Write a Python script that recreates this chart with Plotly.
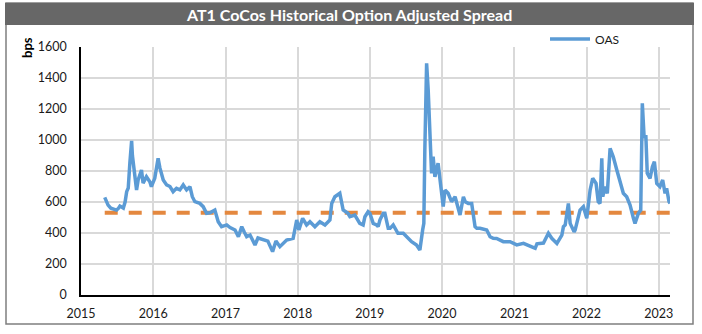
import plotly.graph_objects as go

dates = [
    "2015-05-01","2015-05-10","2015-05-18","2015-06-01","2015-06-13","2015-06-30","2015-07-10","2015-07-17",
    "2015-08-03","2015-08-12","2015-08-20","2015-08-28","2015-09-05","2015-09-14","2015-09-18","2015-09-22",
    "2015-10-01","2015-10-09","2015-10-17","2015-11-03","2015-11-11","2015-11-28","2015-12-15","2015-12-23",
    "2016-01-09","2016-01-18","2016-01-26","2016-02-04","2016-02-21","2016-03-09","2016-03-26","2016-04-11",
    "2016-04-28","2016-05-15","2016-06-01","2016-06-18","2016-07-05","2016-07-17","2016-07-30","2016-08-24",
    "2016-09-10","2016-09-27","2016-10-14","2016-11-08","2016-11-25","2016-12-12","2017-01-07","2017-01-24",
    "2017-02-18","2017-03-07","2017-03-24","2017-04-05","2017-04-18","2017-05-05","2017-05-30","2017-06-14",
    "2017-07-09","2017-08-03","2017-08-27","2017-09-13","2017-10-03","2017-11-06","2017-12-09","2017-12-27",
    "2018-01-07","2018-01-26","2018-02-15","2018-03-04","2018-03-29","2018-04-23","2018-05-19","2018-06-13",
    "2018-06-22","2018-07-08","2018-08-02","2018-08-19","2018-09-12","2018-09-22","2018-10-17","2018-10-26",
    "2018-11-11","2018-11-28","2018-12-07","2018-12-23","2019-01-01","2019-01-18","2019-02-04","2019-02-12",
    "2019-02-21","2019-03-10","2019-03-18","2019-04-04","2019-04-13","2019-04-29","2019-05-16","2019-05-23",
    "2019-06-19","2019-07-14","2019-07-31","2019-08-25","2019-09-11","2019-09-25","2019-10-01","2019-10-06",
    "2019-10-15","2019-10-23","2019-11-01","2019-11-09","2019-11-17","2019-11-26","2019-12-12","2019-12-21",
    "2019-12-30","2020-01-07","2020-01-16","2020-02-01","2020-02-18","2020-03-07","2020-04-01","2020-04-18",
    "2020-04-27","2020-05-13","2020-05-30","2020-06-16","2020-06-25","2020-07-11","2020-08-14","2020-08-31",
    "2020-09-16","2020-10-03","2020-11-06","2020-12-10","2021-01-13","2021-01-30","2021-02-16","2021-04-08",
    "2021-04-16","2021-04-25","2021-05-11","2021-05-28","2021-06-22","2021-07-09","2021-08-04","2021-08-29",
    "2021-09-06","2021-09-15","2021-10-01","2021-10-10","2021-10-30","2021-11-04","2021-11-29","2021-12-16",
    "2022-01-02","2022-01-19","2022-02-01","2022-02-18","2022-03-01","2022-03-10","2022-03-19","2022-03-24",
    "2022-04-04","2022-04-16","2022-04-30","2022-05-16","2022-06-03","2022-06-19","2022-07-06","2022-07-23",
    "2022-08-09","2022-08-26","2022-09-03","2022-09-20","2022-10-02","2022-10-10","2022-10-19","2022-10-28",
    "2022-11-04","2022-11-18","2022-11-30","2022-12-10","2022-12-22","2023-01-07","2023-01-21","2023-02-02",
    "2023-02-10","2023-02-22","2023-02-27",
]
oas = [
    630,600,580,560,553,548,560,574,
    561,600,667,690,850,995,900,850,
    787,677,742,806,722,763,731,699,
    753,828,882,820,742,710,700,667,
    688,678,710,678,699,634,602,591,
    570,527,530,548,473,441,452,435,
    419,376,441,408,376,387,323,368,
    355,348,280,348,312,355,365,484,
    420,495,452,473,441,473,452,484,
    591,634,656,548,527,505,516,495,
    462,452,505,537,527,462,452,441,
    484,527,527,430,430,452,408,398,
    398,366,344,323,290,420,462,935,
    1495,1323,1043,785,892,763,850,763,
    656,570,677,656,602,634,516,634,
    602,591,591,441,430,430,419,376,
    366,365,344,344,323,329,333,305,
    301,330,333,335,398,366,333,387,
    441,452,591,462,408,419,548,570,
    495,677,753,720,602,591,882,634,
    699,656,946,892,806,742,656,634,
    580,495,462,527,548,1237,1021,1021,
    785,753,828,860,720,699,742,656,
    688,602,591,
]
avg_level = 530
year_ticks = ["2015","2016","2017","2018","2019","2020","2021","2022","2023"]

title_text = "AT1 CoCos Historical Option Adjusted Spread"
y_title = "bps"
series_name = "OAS"

FONT = "Lato, 'Open Sans', sans-serif"

fig = go.Figure()
fig.add_trace(go.Scatter(
    x=[dates[0], dates[-1]], y=[avg_level, avg_level], mode="lines",
    line=dict(color="#E4883F", width=4, dash="13px,11px"),
    showlegend=False, hoverinfo="skip",
))
fig.add_trace(go.Scatter(
    x=dates, y=oas, mode="lines", name=series_name,
    line=dict(color="#5B9BD5", width=3.5),
))

L, R, T, B = 81, 32, 47, 39
W, H = 702, 334
pw, ph = W - L - R, H - T - B

def px_x(p):
    return (p - L) / pw

def px_y(p):
    return (H - B - p) / ph

# outer frame
fig.add_shape(type="rect", xref="paper", yref="paper",
              x0=px_x(6), x1=px_x(693), y0=px_y(324), y1=px_y(3),
              line=dict(color="#7F7F7F", width=1.5), fillcolor="rgba(0,0,0,0)", layer="below")
# title bar
fig.add_shape(type="rect", xref="paper", yref="paper",
              x0=px_x(5), x1=px_x(694), y0=px_y(25), y1=px_y(3),
              line=dict(width=0), fillcolor="#676767", layer="below")

fig.add_annotation(text="<b>" + title_text + "</b>", xref="paper", yref="paper",
                   x=px_x(349), y=px_y(14), xanchor="center", yanchor="middle",
                   showarrow=False, font=dict(family=FONT, size=16, color="white"))
fig.add_annotation(text="<b>" + y_title + "</b>", xref="paper", yref="paper",
                   x=px_x(27), y=px_y(48), xanchor="center", yanchor="middle",
                   textangle=-90, showarrow=False, font=dict(family=FONT, size=13, color="black"))

fig.update_layout(
    width=W, height=H,
    margin=dict(l=L, r=R, t=T, b=B),
    paper_bgcolor="white", plot_bgcolor="white",
    font=dict(family=FONT, size=12.5, color="#1a1a1a"),
    showlegend=True,
    legend=dict(x=px_x(545), y=px_y(39), xanchor="left", yanchor="middle",
                bgcolor="rgba(0,0,0,0)", font=dict(family=FONT, size=12, color="#1a1a1a"),
                itemwidth=40, tracegroupgap=0),
    xaxis=dict(
        type="date", range=["2015-01-01", "2023-02-27"],
        tickmode="array",
        tickvals=[y + "-01-01" for y in year_ticks], ticktext=year_ticks,
        showgrid=True, gridcolor="#D9D9D9", gridwidth=1.5,
        showline=True, linecolor="black", linewidth=1.5,
        ticks="outside", ticklen=6, tickcolor="rgba(0,0,0,0)",
        zeroline=False, fixedrange=True,
    ),
    yaxis=dict(
        range=[0, 1600], dtick=200, tick0=0,
        showgrid=True, gridcolor="#D9D9D9", gridwidth=1.5,
        showline=True, linecolor="black", linewidth=1.5,
        ticks="outside", ticklen=10, tickcolor="rgba(0,0,0,0)",
        zeroline=False, fixedrange=True,
    ),
)

fig.write_html("out.html")
